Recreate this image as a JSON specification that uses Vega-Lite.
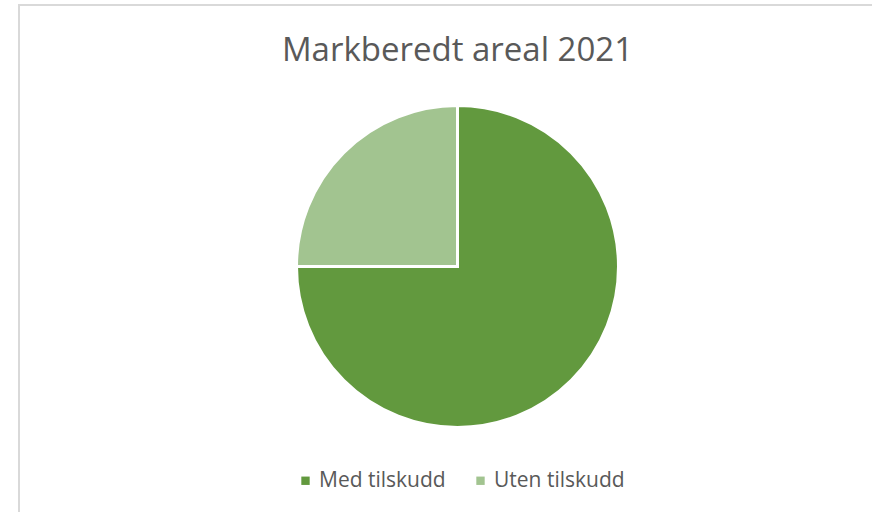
{
  "$schema": "https://vega.github.io/schema/vega-lite/v6.json",
  "autosize": {"type": "fit", "contains": "padding"},
  "width": 872,
  "height": 512,
  "padding": {"left": 19, "top": 5, "right": -24, "bottom": -16},
  "background": "#ffffff",
  "view": {"stroke": "#d9d9d9", "strokeWidth": 2},
  "title": {
    "text": "Markberedt areal 2021",
    "font": "Open Sans",
    "fontSize": 33,
    "fontWeight": "normal",
    "color": "#595959",
    "anchor": "middle",
    "offset": -63
  },
  "data": {
    "values": [
      {"kategori": "Med tilskudd", "andel": 75},
      {"kategori": "Uten tilskudd", "andel": 25}
    ]
  },
  "mark": {"type": "arc", "outerRadius": 161, "stroke": "#ffffff", "strokeWidth": 3},
  "encoding": {
    "theta": {"field": "andel", "type": "quantitative", "stack": true},
    "order": {"field": "andel", "sort": "descending"},
    "color": {
      "field": "kategori",
      "type": "nominal",
      "scale": {"domain": ["Med tilskudd", "Uten tilskudd"], "range": ["#62993E", "#A2C490"]},
      "legend": {
        "title": null,
        "orient": "none",
        "direction": "horizontal",
        "legendX": 276,
        "legendY": 465,
        "symbolType": "square",
        "symbolSize": 70,
        "symbolStrokeWidth": 0,
        "labelFont": "Open Sans",
        "labelFontSize": 21,
        "labelColor": "#595959",
        "labelOffset": 3,
        "columnPadding": 24
      }
    }
  }
}
